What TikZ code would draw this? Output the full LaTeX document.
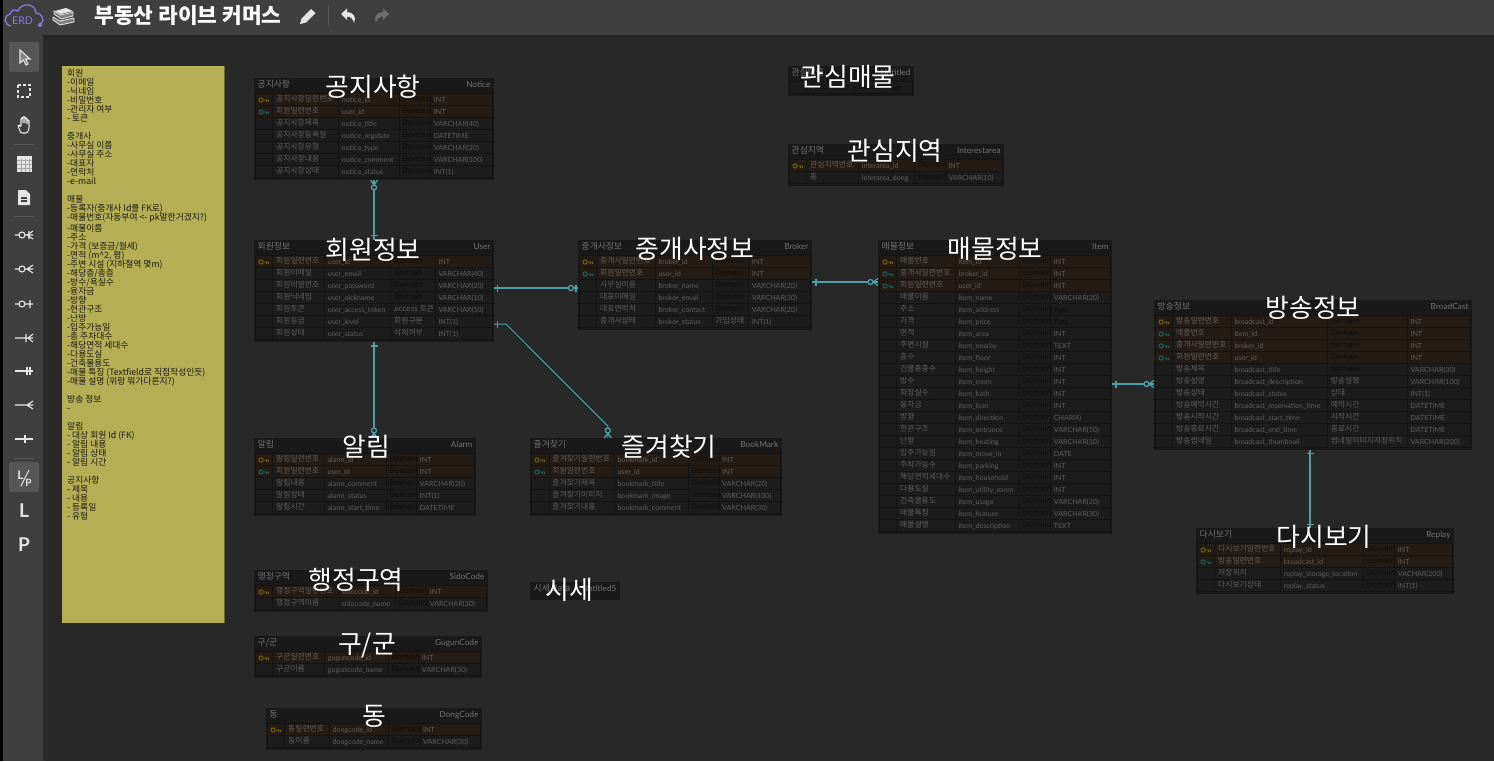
\documentclass[tikz,border=0pt]{standalone}
\usepackage{fontspec}
\usetikzlibrary{calc}
\setmainfont{Lato}
\newfontfamily\kr{Noto Sans CJK KR}
\definecolor{canvascol}{HTML}{282828}
\definecolor{barcol}{HTML}{3F3F3F}
\definecolor{activecol}{HTML}{565656}
\definecolor{notecol}{HTML}{B5AE54}
\definecolor{boxcol}{HTML}{191919}
\definecolor{plaincol}{HTML}{1C1C1C}
\definecolor{keycol}{HTML}{251B15}
\definecolor{gridcol}{HTML}{141414}
\definecolor{cellcol}{HTML}{5C5C5C}
\definecolor{titlecol}{HTML}{727272}
\definecolor{dmcol}{HTML}{0E0E0E}
\definecolor{relcol}{HTML}{4C9EA8}
\definecolor{pkcol}{HTML}{75640F}
\definecolor{fkcol}{HTML}{156466}
\definecolor{toolcol}{HTML}{E4E4E4}
\definecolor{erdcol}{HTML}{8A7BE6}
\tikzset{
  erbox/.style={rectangle,fill=boxcol,inner sep=0pt,outer sep=0pt,anchor=north west},
  rown/.style={fill=plaincol,draw=gridcol,line width=.7pt},
  rowp/.style={fill=keycol,draw=gridcol,line width=.7pt},
  rowf/.style={fill=keycol,draw=gridcol,line width=.7pt},
  gridline/.style={draw=gridcol,line width=.8pt},
  kocell/.style={inner sep=0pt,anchor=base west,text=cellcol,font=\kr\fontsize{7.8}{8}\selectfont},
  encell/.style={inner sep=0pt,anchor=base west,text=cellcol,font=\fontsize{7.1}{8}\selectfont},
  titleko/.style={inner sep=0pt,anchor=base west,text=titlecol,font=\kr\fontsize{8.8}{9}\selectfont},
  titleen/.style={inner sep=0pt,anchor=base east,text=titlecol,font=\fontsize{8.3}{9}\selectfont},
  biglabel/.style={inner sep=0pt,text=white,font=\kr\fontsize{25.8}{26}\selectfont},
  relline/.style={color=relcol,line width=1.3pt},
  thinrel/.style={color=relcol,line width=1pt},
  toolline/.style={color=toolcol,line width=1.1pt},
  toolbtn/.style={fill=activecol,rounded corners=2pt},
  toolsep/.style={draw=#1,line width=.8pt},
  pics/keyn/.style={code={}},
  pics/keyp/.style={code={
    \draw[pkcol,line width=.9pt] (-2.4,0) circle (2.1) (-.3,0) -- (5,0) (2.8,0) -- (2.8,1.8) (5,0) -- (5,1.8);}},
  pics/keyf/.style={code={
    \draw[fkcol,line width=.9pt] (-2.4,0) circle (2.1) (-.3,0) -- (5,0) (2.8,0) -- (2.8,1.8) (5,0) -- (5,1.8);}},
  pics/onemark/.style={code={\draw (0,-3.5) -- (0,3.5);}},
  pics/zeroone/.style={code={\draw (2,-3.5) -- (2,3.5); \draw[fill=canvascol] (7,0) circle (2.5);}},
  pics/zeromany/.style={code={\draw (5,0) -- (0,-3.5) (5,0) -- (0,3.5); \draw[fill=canvascol] (7.5,0) circle (2.5);}},
}
\newcommand\dmn{{\itshape\color{dmcol}Domain}}
\newcommand\tyn{{\itshape\color{dmcol}Type}}
\newcommand\fldn{{\color{dmcol}Field}}
% id, left, top, right, bottom, korean title, english title
\newcommand\ertable[7]{
  \def\erid{#1}\def\erleft{#2}\def\ertop{#3}\def\erright{#4}
  \pgfmathsetmacro\boxw{#4-#2}
  \pgfmathsetmacro\boxh{#5-#3}
  \node[erbox,minimum width=\boxw pt,minimum height=\boxh pt] (#1) at (#2,#3) {};
  \node[titleko] (#1-ko) at (#2+3.5,#3+9.5) {#6};
  \node[titleen] (#1-en) at (#4-3.3,#3+9.5) {#7};
}
\newcommand\ercols[4]{\def\cola{#1}\def\colb{#2}\def\colc{#3}\def\cold{#4}}
\newcommand\errows[1]{
  \foreach \ic/\ko/\en/\dm/\ty [count=\i] in {#1} {
    \pgfmathsetmacro\rowy{\ertop+21.5+12*(\i-1)}
    \path[row\ic] (\erleft+1.5,\rowy-6) rectangle (\erright-1.5,\rowy+6);
    \foreach \c in {\cola,\colb,\colc,\cold}
      \draw[gridline] (\c,\rowy-6) -- (\c,\rowy+6);
    \pic at (\erleft+9.5,\rowy+.5) {key\ic};
    \node[kocell] (\erid-\i-ko) at (\cola+3.3,\rowy+2) {\ko};
    \node[encell] (\erid-\i-en) at (\colb+3,\rowy+3) {\en};
    \node[kocell] (\erid-\i-dm) at (\colc+3.3,\rowy+2) {\dm};
    \node[encell] (\erid-\i-ty) at (\cold+3,\rowy+3) {\ty};
  }
}
\begin{document}
\begin{tikzpicture}[x=1pt,y=-1pt]
  \useasboundingbox (0,0) rectangle (1494,761);
  \fill[canvascol] (0,0) rectangle (1494,761);
  % top bar and tool bar
  \fill[barcol] (0,0) rectangle (1494,35);
  \fill[barcol] (0,35) rectangle (43,761);
  \fill[black] (0,0) rectangle (3,761);
  \draw[erdcol,line width=1.2pt] (11,26) .. controls (4,25) and (3,16) .. (10,14) .. controls (11,10) and (15,9) .. (18,11) .. controls (21,2) and (36,3) .. (36,13) .. controls (42,13) and (45,20) .. (41,24);
  \draw[erdcol,line width=1.2pt] (40,25) circle (1.5);
  \node[inner sep=0pt,text=erdcol,font=\fontsize{10.5}{11}\selectfont] (erdlogo) at (22.5,21) {ERD};
  \draw[toolcol,fill=gray,line width=.8pt] (53,20) -- (60,25) -- (74,22) -- (74,18) -- (60,21) -- (53,17) -- cycle;
  \draw[toolcol,fill=gray,line width=.8pt] (54,14) -- (61,19) -- (73,16) -- (73,12) -- (61,15) -- (54,11) -- cycle;
  \fill[toolcol] (55,11) -- (66,8) -- (73,11) -- (61,14) -- cycle;
  \node[inner sep=0pt,text=white,font=\kr\bfseries\fontsize{21.4}{22}\selectfont] (apptitle) at (188,15) {부동산 라이브 커머스};
  \fill[toolcol] (300,24) -- (301.5,18.5) -- (311,9) -- (315.5,13) -- (306,22.5) -- cycle;
  \draw[toolsep=activecol] (328,6) -- (328,25);
  \fill[toolcol] (341,14) -- (347,8.5) -- (347,12) .. controls (353,12) and (357,17) .. (354,23) .. controls (353,19) and (351,16.5) .. (347,16.5) -- (347,20) -- cycle;
  \fill[gray!70!barcol] (389,14) -- (383,8.5) -- (383,12) .. controls (377,12) and (373,17) .. (376,23) .. controls (377,19) and (379,16.5) .. (383,16.5) -- (383,20) -- cycle;
  \fill[toolbtn] (9,42) rectangle (39,72);
  \draw[toolline,fill=gray] (20,50) -- (20,63) -- (23.5,60) -- (26,65) -- (28,64) -- (25.5,59) -- (30,59) -- cycle;
  \draw[toolline,dashed,dash pattern=on 3pt off 2pt] (18,85) rectangle (30,97);
  \draw[toolline,rounded corners=1pt] (21,133) -- (18,126) -- (19.5,125) -- (21,127) -- (21,118) -- (23,118) -- (23,124) -- (23,116.5) -- (25,116.5) -- (25,124) -- (25,118) -- (27,118) -- (27,125) -- (27,120) -- (29,120) -- (29,129) -- (27,133) -- cycle;
  \draw[toolsep=activecol] (14,144) -- (34,144);
  \fill[toolcol] (17,156) rectangle (31.5,171.5);
  \foreach \g in {160,164,168} \draw[gray!70,line width=.5pt] (17,\g) -- (31.5,\g);
  \foreach \g in {21,25,29} \draw[gray!70,line width=.5pt] (\g,159) -- (\g,171.5);
  \fill[toolcol] (18,190) -- (26,190) -- (30,194) -- (30,205) -- (18,205) -- cycle;
  \draw[barcol,line width=1.2pt] (21,198) -- (27,198) (21,201) -- (27,201);
  \draw[toolsep=activecol] (14,216) -- (34,216);
  % relation tools
  \draw[toolline] (15,235) -- (19,235) (22,235) circle (3) (33,231) -- (27,235) -- (33,239) (25,235) -- (33,235) (29,231) -- (29,239);
  \draw[toolline] (15,269) -- (19,269) (22,269) circle (3) (33,265) -- (27,269) -- (33,273) (25,269) -- (33,269);
  \draw[toolline] (15,304) -- (19,304) (22,304) circle (3) (25,304) -- (33,304) (30,300) -- (30,308);
  \draw[toolline] (15,338) -- (33,338) (33,334) -- (28,338) -- (33,342) (26,334) -- (26,342);
  \draw[toolline] (15,371) -- (33,371) (27,367) -- (27,375) (30,367) -- (30,375);
  \draw[toolline] (15,405) -- (33,405) (33,401) -- (27,405) -- (33,409);
  \draw[toolline] (15,439) -- (33,439) (25,435) -- (25,443);
  \draw[toolsep=activecol] (14,458) -- (34,458);
  \fill[toolbtn] (9,462) rectangle (39,492);
  \node[inner sep=0pt,text=toolcol,font=\bfseries\fontsize{12}{12}\selectfont] (ltool) at (20.5,475) {L};
  \node[inner sep=0pt,text=toolcol,font=\bfseries\fontsize{10}{10}\selectfont] (ptool) at (28.5,482.5) {P};
  \draw[toolline] (29,470) -- (21,486);
  \node[inner sep=0pt,text=toolcol,font=\bfseries\fontsize{19}{19}\selectfont] (lbtn) at (24,511) {L};
  \node[inner sep=0pt,text=toolcol,font=\bfseries\fontsize{19}{19}\selectfont] (pbtn) at (24,545) {P};
  % sticky note
  \fill[notecol!60!black] (223,66) rectangle (224.5,623);
  \node[rectangle,fill=notecol,inner sep=0pt,outer sep=0pt,anchor=north west,minimum width=161.5pt,minimum height=557pt] (note) at (62,66) {};
  \node[anchor=north west,inner sep=0pt,align=left,text=black!90,font=\kr\fontsize{8.75}{9}\selectfont] (notetext) at (67,69.5) {회원\\-이메일\\-닉네임\\-비밀번호\\-관리자 여부\\- 토큰\\~\\중개사\\-사무실 이름\\-사무실 주소\\-대표자\\-연락처\\-e-mail\\~\\매물\\-등록자(중개사 Id를 FK로)\\-매물번호(자동부여 <- pk말한거겠지?)\\-매물이름\\-주소\\-가격 (보증금/월세)\\-면적 (m\^{}2, 평)\\-주변 시설 (지하철역 몇m)\\-해당층/총층\\-방수/욕실수\\-융자금\\-방향\\-현관구조\\-난방\\-입주가능일\\-총 주차대수\\-해당면적 세대수\\-다용도실\\-건축물용도\\-매물 특징 (Textfield로 직접작성인듯)\\-매물 설명 (위랑 뭐가다른지?)\\~\\방송 정보\\-\\~\\알림\\- 대상 회원 Id (FK)\\- 알림 내용\\- 알림 상태\\- 알림 시간\\~\\공지사항\\- 제목\\- 내용\\- 등록일\\- 유형};
  % tables
  \ertable{notice}{254}{78}{494}{180}{공지사항}{Notice}
  \ercols{272.7}{338.7}{399}{430.7}
  \errows{p/공지사항일련번호/notice\_id/\dmn/INT,f/회원일련번호/user\_id/\dmn/INT,n/공지사항제목/notice\_title/\dmn/VARCHAR(40),n/공지사항등록일/notice\_regidate/\dmn/DATETIME,n/공지사항유형/notice\_type/\dmn/VARCHAR(20),n/공지사항내용/notice\_comment/\dmn/VARCHAR(100),n/공지사항상태/notice\_status/\dmn/INT(1)}
  \ertable{user}{254}{240}{494}{342}{회원정보}{User}
  \ercols{272.7}{324.7}{390.7}{435.3}
  \errows{p/회원일련번호/user\_id/\dmn/INT,n/회원이메일/user\_email/\dmn/VARCHAR(40),n/회원비밀번호/user\_password/\dmn/VARCHAR(20),n/회원닉네임/user\_nickname/\dmn/VARCHAR(10),n/회원토큰/user\_access\_token/access 토큰/VARCHAR(50),n/회원등급/user\_level/회원구분/INT(1),n/회원상태/user\_status/삭제여부/INT(1)}
  \ertable{broker}{578}{240}{812}{329.5}{중개사정보}{Broker}
  \ercols{596.7}{655.3}{712}{748.7}
  \errows{p/중개사일련번호/broker\_id/\dmn/INT,f/회원일련번호/user\_id/\dmn/INT,n/사무실이름/broker\_name/\dmn/VARCHAR(20),n/대표이메일/broker\_email/\dmn/VARCHAR(30),n/대표연락처/broker\_contact/\dmn/VARCHAR(20),n/중개사상태/broker\_status/가입상태/INT(1)}
  \ertable{item}{878}{240}{1112}{534}{매물정보}{Item}
  \ercols{896.7}{955.3}{1019.3}{1050.7}
  \errows{p/매물번호/item\_id/\dmn/INT,f/중개사일련번호/broker\_id/\dmn/INT,f/회원일련번호/user\_id/\dmn/INT,n/매물이름/item\_name/\dmn/VARCHAR(20),n/주소/item\_address/\dmn/\tyn,n/가격/item\_price/\dmn/\tyn,n/면적/item\_area/\dmn/INT,n/주변시설/item\_nearby/\dmn/TEXT,n/층수/item\_floor/\dmn/INT,n/건물총층수/item\_height/\dmn/INT,n/방수/item\_room/\dmn/INT,n/화장실수/item\_bath/\dmn/INT,n/융자금/item\_loan/\dmn/INT,n/방향/item\_direction/\dmn/CHAR(4),n/현관구조/item\_entrance/\dmn/VARCHAR(10),n/난방/item\_heating/\dmn/VARCHAR(10),n/입주가능일/item\_move\_in/\dmn/DATE,n/주차가능수/item\_parking/\dmn/INT,n/해당면적세대수/item\_household/\dmn/INT,n/다용도실/item\_utility\_room/\dmn/INT,n/건축물용도/item\_usage/\dmn/VARCHAR(20),n/매물특징/item\_feature/\dmn/VARCHAR(30),n/매물설명/item\_description/\dmn/TEXT}
  \ertable{broadcast}{1154}{300}{1472}{450}{방송정보}{BroadCast}
  \ercols{1172.7}{1231.3}{1327.3}{1407.3}
  \errows{p/방송일련번호/broadcast\_id/\dmn/INT,f/매물번호/item\_id/\dmn/INT,f/중개사일련번호/broker\_id/\dmn/INT,f/회원일련번호/user\_id/\dmn/INT,n/방송제목/broadcast\_title/\dmn/VARCHAR(30),n/방송설명/broadcast\_description/방송설명/VARCHAR(100),n/방송상태/broadcast\_status/상태/INT(1),n/방송예약시간/broadcast\_reservation\_time/예약시간/DATETIME,n/방송시작시간/broadcast\_start\_time/시작시간/DATETIME,n/방송종료시간/broadcast\_end\_time/종료시간/DATETIME,n/방송썸네일/broadcast\_thumbnail/썸네일이미지저장위치/VARCHAR(200)}
  \ertable{replay}{1196}{528}{1454}{594}{다시보기}{Replay}
  \ercols{1214.7}{1280.7}{1363.3}{1394.7}
  \errows{p/다시보기일련번호/replay\_id/\dmn/INT,f/방송일련번호/broadcast\_id/\dmn/INT,n/저장위치/replay\_storage\_location/\dmn/VACHAR(200),n/다시보기상태/replay\_status/\dmn/INT(1)}
  \ertable{alarm}{254}{438}{476}{516}{알림}{Alarm}
  \ercols{272.7}{324.4}{386}{416.7}
  \errows{p/알림일련번호/alarm\_id/\dmn/INT,f/회원일련번호/user\_id/\dmn/INT,n/알림내용/alarm\_comment/\dmn/VARCHAR(20),n/알림상태/alarm\_status/\dmn/INT(1),n/알림시간/alarm\_start\_time/\dmn/DATETIME}
  \ertable{bookmark}{530}{438}{781.7}{516}{즐겨찾기}{BookMark}
  \ercols{548.9}{614.3}{688}{719}
  \errows{p/즐겨찾기일련번호/bookmark\_id/\dmn/INT,f/회원일련번호/user\_id/\dmn/INT,n/즐겨찾기제목/bookmark\_title/\dmn/VARCHAR(20),n/즐겨찾기이미지/bookmark\_image/\dmn/VARCHAR(100),n/즐겨찾기내용/bookmark\_comment/\dmn/VARCHAR(30)}
  \ertable{sido}{254}{570}{488}{612}{행정구역}{SidoCode}
  \ercols{272.7}{338.7}{395.3}{426.7}
  \errows{p/행정구역일련번호/sidocode\_id/\dmn/INT,n/행정구역이름/sidocode\_name/\dmn/VARCHAR(30)}
  \ertable{gugun}{254}{636}{482}{678}{구/군}{GugunCode}
  \ercols{272.7}{324.7}{388}{418.7}
  \errows{p/구군일련번호/guguncode\_id/\dmn/INT,n/구군이름/guguncode\_name/\dmn/VARCHAR(30)}
  \ertable{dong}{266}{708}{482}{750}{동}{DongCode}
  \ercols{284.7}{329.3}{388.7}{420}
  \errows{p/동일련번호/dongcode\_id/\dmn/INT,n/동이름/dongcode\_name/\dmn/VARCHAR(30)}
  \ertable{price}{530}{582}{620}{600}{시세 data}{Untitled5}
  \ertable{wish}{788}{66}{914}{96}{관심매물}{Untitled}
  \ercols{806.7}{830.7}{854.7}{885.3}
  \errows{n/\fldn/\fldn/\dmn/\tyn}
  \ertable{area}{788}{144}{1004}{185.5}{관심지역}{Interestarea}
  \ercols{806.7}{858.7}{914.7}{945.3}
  \errows{p/관심지역번호/interarea\_id/\dmn/INT,n/동/interarea\_dong/\dmn/VARCHAR(10)}
  % connectors
  \coordinate (userbroker) at (494,288);
  \coordinate (userbook) at (494,324);
  \coordinate (bookdrop) at (607.8,426);
  \coordinate (brokeritem) at (812,282);
  \coordinate (itemcast) at (1112,384);
  \coordinate (castreplay) at (1310,450);
  \draw[relline] (notice.south) -- (user.north);
  \pic[relline,rotate=-90] at (notice.south) {zeromany};
  \pic[relline,rotate=90] at ($(user.north)+(0,-4.5)$) {onemark};
  \draw[relline] (user.south) -- (user.south |- alarm.north);
  \pic[relline,rotate=-90] at ($(user.south)+(0,4)$) {onemark};
  \pic[relline,rotate=90] at (user.south |- alarm.north) {zeromany};
  \draw[relline] (userbroker) -- (userbroker -| broker.west);
  \pic[relline] at ($(userbroker)+(3.5,0)$) {onemark};
  \pic[relline,rotate=180] at (userbroker -| broker.west) {zeroone};
  \draw[thinrel] (userbook) -- ++(12,0) -- (bookdrop) -- (bookdrop |- bookmark.north);
  \pic[relline] at ($(userbook)+(3.5,0)$) {onemark};
  \pic[relline,rotate=90] at (bookdrop |- bookmark.north) {zeromany};
  \draw[relline] (brokeritem) -- (brokeritem -| item.west);
  \pic[relline] at ($(brokeritem)+(4,0)$) {onemark};
  \pic[relline,rotate=180] at (brokeritem -| item.west) {zeromany};
  \draw[relline] (itemcast) -- (itemcast -| broadcast.west);
  \pic[relline] at ($(itemcast)+(4,0)$) {onemark};
  \pic[relline,rotate=180] at (itemcast -| broadcast.west) {zeromany};
  \draw[relline] (castreplay) -- (castreplay |- replay.north);
  \pic[relline,rotate=90] at ($(castreplay)+(0,3.7)$) {onemark};
  \pic[relline,rotate=90] at ($(castreplay |- replay.north)+(0,-3.7)$) {onemark};
  % overlay captions
  \node[biglabel] (capnotice) at (373,87) {공지사항};
  \node[biglabel] (capuser) at (373,250) {회원정보};
  \node[biglabel] (capbroker) at (695,249) {중개사정보};
  \node[biglabel] (capitem) at (995,249) {매물정보};
  \node[biglabel] (capcast) at (1313,308) {방송정보};
  \node[biglabel] (capreplay) at (1324,537) {다시보기};
  \node[biglabel] (capalarm) at (366,447) {알림};
  \node[biglabel] (capbook) at (669,447) {즐겨찾기};
  \node[biglabel] (capsido) at (356,580) {행정구역};
  \node[biglabel] (capgugun) at (367,646) {구/군};
  \node[biglabel] (capdong) at (374,716) {동};
  \node[biglabel] (capprice) at (569,590) {시세};
  \node[biglabel] (capwish) at (848,77) {관심매물};
  \node[biglabel] (caparea) at (895,151) {관심지역};
\end{tikzpicture}
\end{document}
